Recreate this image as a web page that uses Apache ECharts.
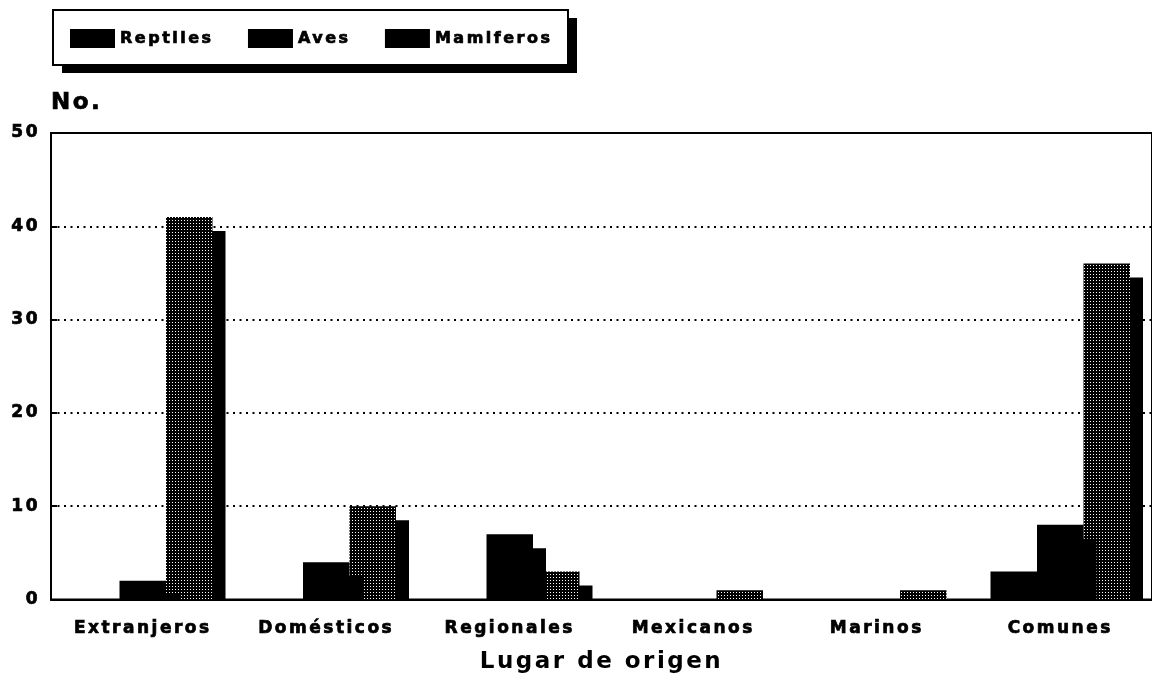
<!DOCTYPE html>
<html>
<head>
<meta charset="utf-8">
<script src="https://cdn.jsdelivr.net/npm/echarts@6/dist/echarts.min.js"></script>
<style>
  html, body { margin: 0; padding: 0; background: #fff; }
  #chart { width: 1152px; height: 680px; }
</style>
</head>
<body>
<div id="chart"></div>
<script>
// ---- data ----
const categories = ['Extranjeros', 'Domésticos', 'Regionales', 'Mexicanos', 'Marinos', 'Comunes'];
const seriesNames = ['Reptiles', 'Aves', 'Mamiferos'];
const reptiles  = [0, 0, 0, 0, 0, 3];
const aves      = [2, 4, 7, 0, 0, 8];
const mamiferos = [41, 10, 3, 1, 1, 36];
const yTicks = { min: 0, max: 50, interval: 10 };

// wide tracking of the old typeface
(function () {
  const P = CanvasRenderingContext2D.prototype;
  ['fillText', 'strokeText', 'measureText'].forEach(function (fn) {
    const orig = P[fn];
    P[fn] = function () {
      if ('letterSpacing' in this) this.letterSpacing = '2.5px';
      return orig.apply(this, arguments);
    };
  });
})();

// dotted texture for Mamiferos
const tile = document.createElement('canvas');
tile.width = 3; tile.height = 3;
const tctx = tile.getContext('2d');
tctx.fillStyle = '#000'; tctx.fillRect(0, 0, 3, 3);
tctx.fillStyle = '#fff'; tctx.fillRect(1, 1, 1, 1);

const FONT = 'DejaVu Sans';
const BAR_W = 46.5;
const SH_X = 13, SH_Y = 14;
const heavy = { textBorderColor: '#000', textBorderWidth: 0.7 };

// drop shadow of each bar, drawn through the same axes and clipped at the baseline
function shadowSeries(values, k, z) {
  return {
    type: 'custom',
    name: seriesNames[k] + ' sombra',
    z: z,
    silent: true,
    data: values.map(function (v, i) { return [i, v]; }),
    renderItem: function (params, api) {
      const v = api.value(1);
      if (!v) return null;
      const top = api.coord([api.value(0), v]);
      const base = api.coord([api.value(0), 0]);
      const left = top[0] - 1.5 * BAR_W + k * BAR_W + SH_X;
      const y = top[1] + SH_Y;
      const h = base[1] - y;
      if (h <= 0) return null;
      return { type: 'rect', shape: { x: left, y: y, width: BAR_W, height: h }, style: { fill: '#000' } };
    }
  };
}

const chart = echarts.init(document.getElementById('chart'), null, { renderer: 'canvas' });
chart.setOption({
  backgroundColor: '#fff',
  animation: false,
  graphic: [
    { type: 'rect', z: 1, shape: { x: 62, y: 18, width: 515, height: 55 }, style: { fill: '#000' } },
    { type: 'rect', z: 2, shape: { x: 53, y: 10, width: 515, height: 55 }, style: { fill: '#fff', stroke: '#000', lineWidth: 2 } }
  ],
  legend: {
    left: 70, top: 29,
    padding: 0,
    itemWidth: 45, itemHeight: 19, itemGap: 34,
    icon: 'rect',
    z: 5,
    itemStyle: { shadowBlur: 0, shadowOffsetX: 0, shadowOffsetY: 0, shadowColor: 'rgba(0,0,0,0)' },
    textStyle: Object.assign({ fontFamily: FONT, fontWeight: 'bold', fontSize: 16, color: '#000' }, heavy),
    data: [
      { name: 'Reptiles', itemStyle: { color: '#000' } },
      { name: 'Aves', itemStyle: { color: '#000' } },
      { name: 'Mamiferos', itemStyle: { color: '#000' } }
    ]
  },
  grid: {
    left: 51, right: -14, top: 133, bottom: 77,
    show: true, borderColor: '#000', borderWidth: 2
  },
  xAxis: {
    type: 'category',
    data: categories,
    name: 'Lugar de origen',
    nameLocation: 'middle',
    nameGap: 50,
    nameTextStyle: { fontFamily: FONT, fontWeight: 'bold', fontSize: 23, color: '#000' },
    axisLine: { show: true, lineStyle: { color: '#000', width: 2 } },
    axisTick: { show: false },
    axisLabel: Object.assign({ margin: 19, fontFamily: FONT, fontWeight: 'bold', fontSize: 17, color: '#000' }, heavy)
  },
  yAxis: {
    type: 'value',
    min: yTicks.min, max: yTicks.max, interval: yTicks.interval,
    name: 'No.',
    nameLocation: 'end',
    nameGap: 30,
    nameTextStyle: Object.assign({ fontFamily: FONT, fontWeight: 'bold', fontSize: 23, color: '#000', align: 'left', verticalAlign: 'middle' }, heavy),
    axisLine: { show: true, lineStyle: { color: '#000', width: 2 } },
    axisTick: { show: true, inside: true, length: 6, lineStyle: { color: '#000', width: 2 } },
    axisLabel: Object.assign({ margin: 11, fontFamily: FONT, fontWeight: 'bold', fontSize: 17, color: '#000' }, heavy),
    splitLine: {
      show: true, showMinLine: false, showMaxLine: false,
      lineStyle: { color: '#000', width: 2, type: [2, 4.5] }
    }
  },
  series: [
    { name: 'Reptiles', type: 'bar', data: reptiles, barWidth: BAR_W, barGap: '0%', z: 8,
      itemStyle: { color: '#000' } },
    { name: 'Aves', type: 'bar', data: aves, barWidth: BAR_W, barGap: '0%', z: 6,
      itemStyle: { color: '#000' } },
    { name: 'Mamiferos', type: 'bar', data: mamiferos, barWidth: BAR_W, barGap: '0%', z: 4,
      itemStyle: { color: { image: tile, repeat: 'repeat' } } },
    shadowSeries(reptiles, 0, 7),
    shadowSeries(aves, 1, 5),
    shadowSeries(mamiferos, 2, 3)
  ]
});
</script>
</body>
</html>
